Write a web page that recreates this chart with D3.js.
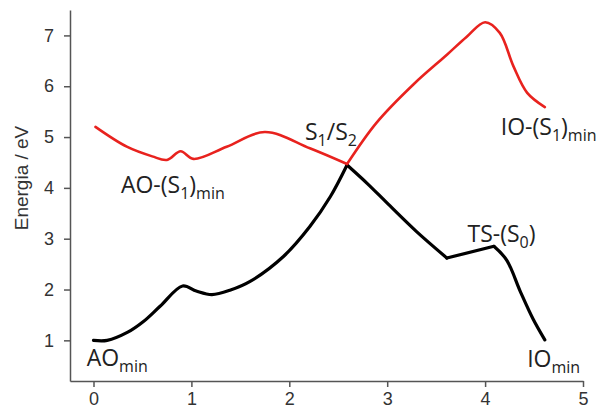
<!DOCTYPE html>
<html>
<head>
<meta charset="utf-8">
<script src="https://cdn.jsdelivr.net/npm/d3@7"></script>
<style>
  html, body { margin: 0; padding: 0; background: #fff; }
  svg { display: block; }
  .axis path, .axis line { stroke: #555; stroke-width: 1.5; }
  .axis text { font-family: "Liberation Sans", Arial, sans-serif; font-size: 18px; fill: #333; }
  .note { font-family: "Open Sans", sans-serif; font-size: 23px; fill: #222; }
</style>
</head>
<body>
<svg id="chart" width="608" height="405"></svg>
<script>
// Reaction coordinate ticks / energy ticks
const xTicks = [0, 1, 2, 3, 4, 5];
const yTicks = [1, 2, 3, 4, 5, 6, 7];

// S0 (black) curve
const s0X = [0, 0.14, 0.35, 0.51, 0.68, 0.91, 1.05, 1.21, 1.40, 1.60, 1.94, 2.21, 2.42, 2.59,
             2.80, 3.00, 3.30, 3.61, 4.09, 4.22, 4.36, 4.49, 4.61];
const s0Y = [1.00, 1.00, 1.16, 1.37, 1.67, 2.07, 1.97, 1.90, 1.99, 2.16, 2.65, 3.24, 3.83, 4.45,
             4.08, 3.70, 3.14, 2.62, 2.85, 2.58, 1.96, 1.42, 1.01];
const s0Cusps = [2.59, 3.61, 4.09];

// S1 (red) curve
const s1X = [0.02, 0.34, 0.60, 0.75, 0.89, 1.02, 1.36, 1.75, 2.21, 2.59,
             2.89, 3.27, 3.61, 3.81, 4.00, 4.15, 4.29, 4.43, 4.61];
const s1Y = [5.20, 4.81, 4.62, 4.55, 4.72, 4.57, 4.81, 5.10, 4.78, 4.47,
             5.28, 6.04, 6.62, 6.97, 7.26, 7.05, 6.39, 5.87, 5.59];
const s1Cusps = [2.59];

// annotations: pieces of [text, isSubscript], anchored at a data point (left / baseline)
const noteParts = [
  [['AO', 0], ['min', 1]],
  [['IO', 0], ['min', 1]],
  [['AO-(S', 0], ['1', 1], [')', 0], ['min', 1]],
  [['S', 0], ['1', 1], ['/S', 0], ['2', 1]],
  [['IO-(S', 0], ['1', 1], [')', 0], ['min', 1]],
  [['TS-(S', 0], ['0', 1], [')', 0]],
];
const noteAt = [[-0.07, 0.50], [4.43, 0.48], [0.28, 3.90], [2.16, 4.94], [4.16, 5.04], [3.82, 2.94]];

const svg = d3.select('#chart');
const x = d3.scaleLinear().domain([-0.24, 5]).range([70, 583]);
const y = d3.scaleLinear().domain([0.2, 7.5]).range([381, 10]);

svg.append('g').attr('class', 'axis')
  .attr('transform', 'translate(0,381)')
  .call(d3.axisBottom(x).tickValues(xTicks).tickFormat(d3.format('d'))
    .tickSize(6).tickPadding(5).tickSizeOuter(0));
svg.append('g').attr('class', 'axis')
  .attr('transform', 'translate(70,0)')
  .call(d3.axisLeft(y).tickValues(yTicks).tickFormat(d3.format('d'))
    .tickSize(6).tickPadding(10).tickSizeOuter(0));

svg.append('text')
  .attr('transform', 'translate(21,178) rotate(-90)')
  .attr('text-anchor', 'middle')
  .attr('dominant-baseline', 'central')
  .attr('font-family', '"Liberation Sans", Arial, sans-serif')
  .attr('font-size', 19)
  .attr('fill', '#333')
  .text('Energia / eV');

// split a series at cusp points so the crossing stays sharp
function segments(xs, ys, cusps) {
  const out = [];
  let cur = [];
  xs.forEach((xv, i) => {
    cur.push([xv, ys[i]]);
    if (cusps.includes(xv) && i < xs.length - 1) {
      out.push(cur);
      cur = [[xv, ys[i]]];
    }
  });
  out.push(cur);
  return out;
}

const line = d3.line()
  .x((d) => x(d[0]))
  .y((d) => y(d[1]))
  .curve(d3.curveCatmullRom.alpha(0.5));

function drawSeries(xs, ys, cusps, color, width) {
  svg.append('g').selectAll('path')
    .data(segments(xs, ys, cusps))
    .enter().append('path')
    .attr('d', line)
    .attr('fill', 'none')
    .attr('stroke', color)
    .attr('stroke-width', width)
    .attr('stroke-linecap', 'round')
    .attr('stroke-linejoin', 'round');
}

drawSeries(s0X, s0Y, s0Cusps, '#000', 3.2);
drawSeries(s1X, s1Y, s1Cusps, '#e8221e', 2.6);

noteParts.forEach((parts, i) => {
  const t = svg.append('text').attr('class', 'note')
    .attr('x', x(noteAt[i][0])).attr('y', y(noteAt[i][1]));
  let down = false;
  parts.forEach(([txt, sub]) => {
    const ts = t.append('tspan').text(txt);
    if (sub && !down) { ts.attr('dy', 6); down = true; }
    else if (!sub && down) { ts.attr('dy', -6); down = false; }
    if (sub) ts.attr('font-size', 16);
  });
});
</script>
</body>
</html>
